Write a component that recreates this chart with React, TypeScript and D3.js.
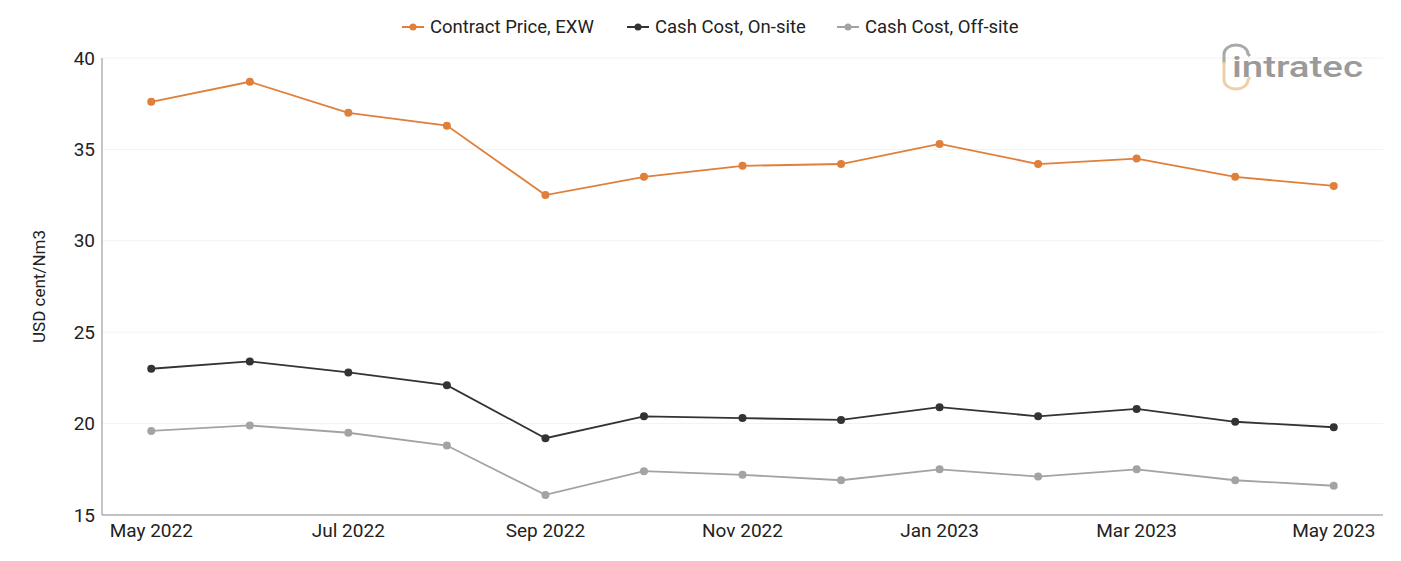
import React from "react";
import * as d3 from "d3";

const months = [
  "May 2022", "Jun 2022", "Jul 2022", "Aug 2022", "Sep 2022", "Oct 2022", "Nov 2022",
  "Dec 2022", "Jan 2023", "Feb 2023", "Mar 2023", "Apr 2023", "May 2023",
];
const contractPrice = [37.6, 38.7, 37.0, 36.3, 32.5, 33.5, 34.1, 34.2, 35.3, 34.2, 34.5, 33.5, 33.0];
const cashCostOnSite = [23.0, 23.4, 22.8, 22.1, 19.2, 20.4, 20.3, 20.2, 20.9, 20.4, 20.8, 20.1, 19.8];
const cashCostOffSite = [19.6, 19.9, 19.5, 18.8, 16.1, 17.4, 17.2, 16.9, 17.5, 17.1, 17.5, 16.9, 16.6];
const yTicks = [15, 20, 25, 30, 35, 40];
const seriesNames = ["Contract Price, EXW", "Cash Cost, On-site", "Cash Cost, Off-site"];
const seriesColors = ["#e07f3a", "#333333", "#a3a3a3"];

const W = 1401;
const H = 561;
const M = { left: 102, right: 18, top: 58, bottom: 46 };
const FONT = "Roboto, 'Noto Sans', sans-serif";

export default function App() {
  const x = d3.scaleBand<string>().domain(months).range([M.left, W - M.right]).padding(0);
  const cx = (m: string) => (x(m) ?? 0) + x.bandwidth() / 2;
  const y = d3.scaleLinear().domain([15, 40]).range([H - M.bottom, M.top]);

  const all = [contractPrice, cashCostOnSite, cashCostOffSite];
  const line = d3
    .line<number>()
    .x((_, i) => cx(months[i]))
    .y((v) => y(v));

  const legendX = [402, 627, 837];

  return (
    <svg width={W} height={H} style={{ position: "absolute", left: 0, top: 0, background: "#fff" }} fontFamily={FONT}>
      {/* gridlines */}
      {yTicks.map((t) => (
        <line key={t} x1={M.left} x2={W - M.right} y1={y(t)} y2={y(t)} stroke="#f2f2f2" strokeWidth={1} />
      ))}
      {/* axes */}
      <line x1={M.left} x2={M.left} y1={M.top} y2={y(15)} stroke="#8c8c8c" strokeWidth={1} />
      <line x1={M.left} x2={W - M.right} y1={y(15)} y2={y(15)} stroke="#8c8c8c" strokeWidth={1} />
      {yTicks.map((t) => (
        <text key={t} x={M.left - 7} y={y(t)} textAnchor="end" dominantBaseline="central" fontSize={19} fill="#222">
          {t}
        </text>
      ))}
      {months.map((m, i) =>
        i % 2 === 0 ? (
          <text key={m} x={cx(m)} y={y(15) + 22} textAnchor="middle" fontSize={19} fill="#222">
            {m}
          </text>
        ) : null
      )}
      <text
        transform={`translate(45, ${(M.top + y(15)) / 2}) rotate(-90)`}
        textAnchor="middle"
        fontSize={17}
        fill="#222"
      >
        USD cent/Nm3
      </text>

      {/* logo */}
      <g>
        <path d="M1224,64 L1224,54 A12,9 0 0 1 1248,54 L1250,56" fill="none" stroke="#a8a8a8" strokeWidth={3} />
        <path d="M1224,62 L1224,80 A12,9 0 0 0 1248,80 L1250,77" fill="none" stroke="#efcfa8" strokeWidth={3} />
        <text x={1232} y={77} fontSize={29} fontWeight={500} fill="#9a9a9a" textLength={131} lengthAdjust="spacingAndGlyphs">
          intratec
        </text>
      </g>

      {/* series */}
      {all.map((vals, s) => (
        <g key={s}>
          <path d={line(vals) ?? ""} fill="none" stroke={seriesColors[s]} strokeWidth={1.8} />
          {vals.map((v, i) => (
            <circle key={i} cx={cx(months[i])} cy={y(v)} r={4} fill={seriesColors[s]} />
          ))}
        </g>
      ))}

      {/* legend */}
      {seriesNames.map((n, s) => (
        <g key={n} transform={`translate(${legendX[s]}, 27)`}>
          <line x1={0} x2={22} y1={0} y2={0} stroke={seriesColors[s]} strokeWidth={2} />
          <circle cx={11} cy={0} r={3.5} fill={seriesColors[s]} />
          <text x={28} y={0} dominantBaseline="central" fontSize={18.5} fill="#222">
            {n}
          </text>
        </g>
      ))}
    </svg>
  );
}
